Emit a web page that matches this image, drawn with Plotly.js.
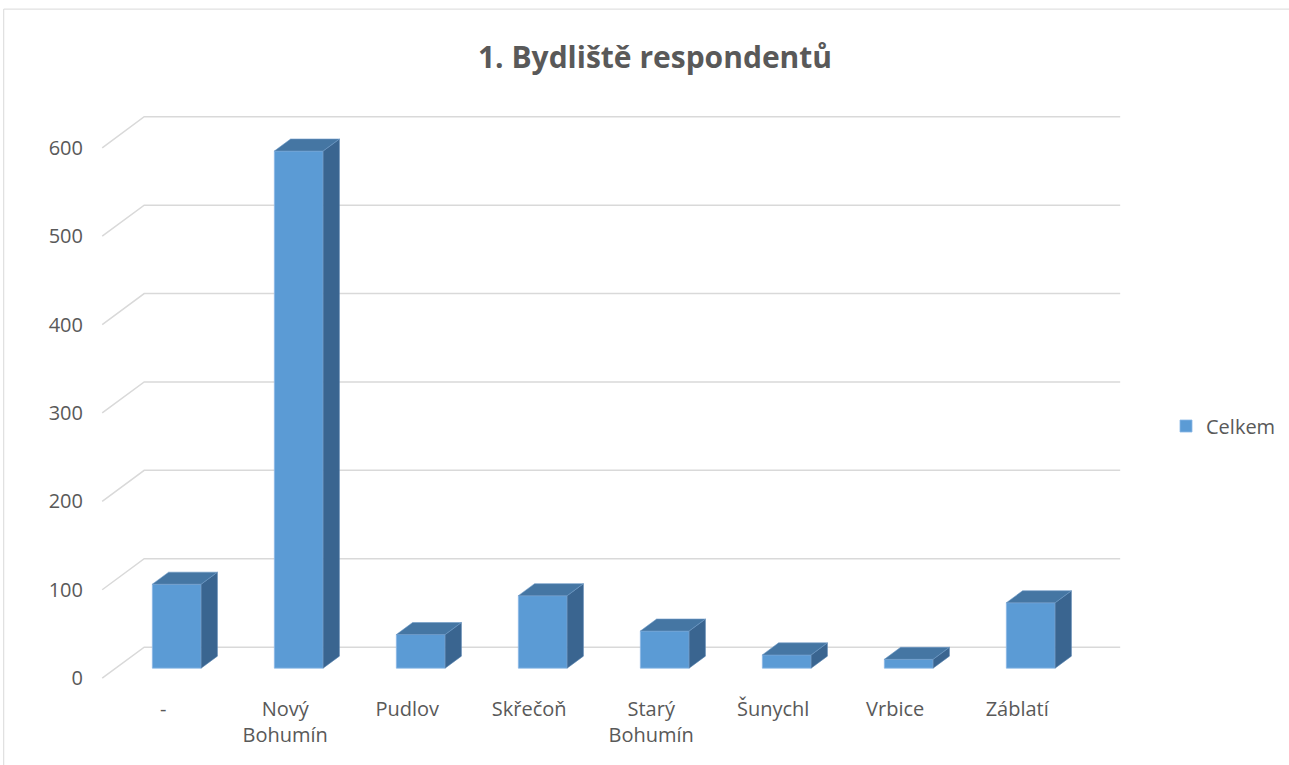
<!DOCTYPE html>
<html>
<head>
<meta charset="utf-8">
<script src="https://cdn.plot.ly/plotly-3.0.1.min.js"></script>
<style>
html,body{margin:0;padding:0;background:#fff;}
#chart{width:1289px;height:765px;}
</style>
</head>
<body>
<div id="chart"></div>
<script>
// ---- data ----
const categories = ["-", "Nový<br>Bohumín", "Pudlov", "Skřečoň", "Starý<br>Bohumín", "Šunychl", "Vrbice", "Záblatí"];
const values = [95, 585, 38, 82, 42, 15, 10, 74];
const seriesName = "Celkem";
const yTicks = [0, 100, 200, 300, 400, 500, 600];
const chartTitle = "1. Bydliště respondentů";

// ---- 3D projection style constants ----
const KX = 42 / 122;     // depth shift in x (category units) for full depth
const KY = 31 / 0.8833;  // depth shift in y (value units) for full depth
const dF = 0.3226;       // bar front depth
const dB = 0.71;         // bar back depth
const W = 0.4;           // bar width

const xs = categories.map((_, i) => i);

// front faces (bar trace)
const frontTrace = {
  type: 'bar',
  name: seriesName,
  x: xs.map(c => c + dF * KX),
  y: values,
  base: values.map(() => dF * KY),
  width: W,
  marker: {color: '#5B9BD5', line: {color: '#8CB8E6', width: 0.8}},
  hoverinfo: 'skip',
  showlegend: true
};

// side and top faces
const sx = [], sy = [], tx = [], ty = [];
xs.forEach((c, i) => {
  const v = values[i];
  const r0 = c + W / 2 + dF * KX, r1 = c + W / 2 + dB * KX;
  const l0 = c - W / 2 + dF * KX, l1 = c - W / 2 + dB * KX;
  sx.push(r0, r1, r1, r0, r0, null);
  sy.push(dF * KY, dB * KY, v + dB * KY, v + dF * KY, dF * KY, null);
  tx.push(l0, l1, r1, r0, l0, null);
  ty.push(v + dF * KY, v + dB * KY, v + dB * KY, v + dF * KY, v + dF * KY, null);
});
const sideTrace = {
  type: 'scatter', mode: 'lines', x: sx, y: sy, fill: 'toself',
  fillcolor: '#3A6590', line: {color: '#5E88B3', width: 0.6},
  hoverinfo: 'skip', showlegend: false
};
const topTrace = {
  type: 'scatter', mode: 'lines', x: tx, y: ty, fill: 'toself',
  fillcolor: '#4576A3', line: {color: '#6C98C6', width: 0.6},
  hoverinfo: 'skip', showlegend: false
};

// perspective gridlines as shapes below traces
const xFront = -0.5, xEnd = categories.length - 0.5 + KX;
const shapes = yTicks.map(v => ({
  type: 'path', xref: 'x', yref: 'y', layer: 'below',
  path: `M ${xFront},${v} L ${xFront + KX},${v + KY} L ${xEnd},${v + KY}`,
  line: {color: '#D9D9D9', width: 1.5}
}));
// chart border
shapes.push({
  type: 'rect', xref: 'paper', yref: 'paper',
  x0: -0.0832, x1: 1.4, y0: -0.4, y1: 1.1708,
  line: {color: '#D9D9D9', width: 1}, fillcolor: 'rgba(0,0,0,0)', layer: 'below'
});

const font = {family: 'Open Sans, sans-serif', size: 20, color: '#595959'};

const layout = {
  width: 1289, height: 765,
  margin: {l: 89.8, r: 162.2, t: 108.3, b: 78.2, pad: 0},
  paper_bgcolor: '#fff', plot_bgcolor: '#fff',
  title: {
    text: '<b>' + chartTitle + '</b>',
    font: {family: 'Open Sans, sans-serif', size: 30, color: '#595959'},
    xref: 'container', yref: 'container',
    x: 655 / 1289, xanchor: 'center', y: 1 - 57 / 765, yanchor: 'middle'
  },
  xaxis: {
    range: [-0.6, 7.9], tickvals: xs, ticktext: categories,
    showgrid: false, zeroline: false, showline: false, ticks: '',
    tickfont: font, ticklabelstandoff: 8, fixedrange: true
  },
  yaxis: {
    range: [-10, 645], tickvals: yTicks,
    showgrid: false, zeroline: false, showline: false, ticks: '',
    tickfont: font, ticklabelstandoff: 6, fixedrange: true
  },
  legend: {
    xref: 'container', yref: 'container',
    x: 1166 / 1289, xanchor: 'left', y: 1 - 426 / 765, yanchor: 'middle',
    font: font, bgcolor: 'rgba(0,0,0,0)'
  },
  shapes: shapes,
  showlegend: true
};

Plotly.newPlot('chart', [frontTrace, sideTrace, topTrace], layout, {displayModeBar: false, staticPlot: true});
</script>
</body>
</html>
